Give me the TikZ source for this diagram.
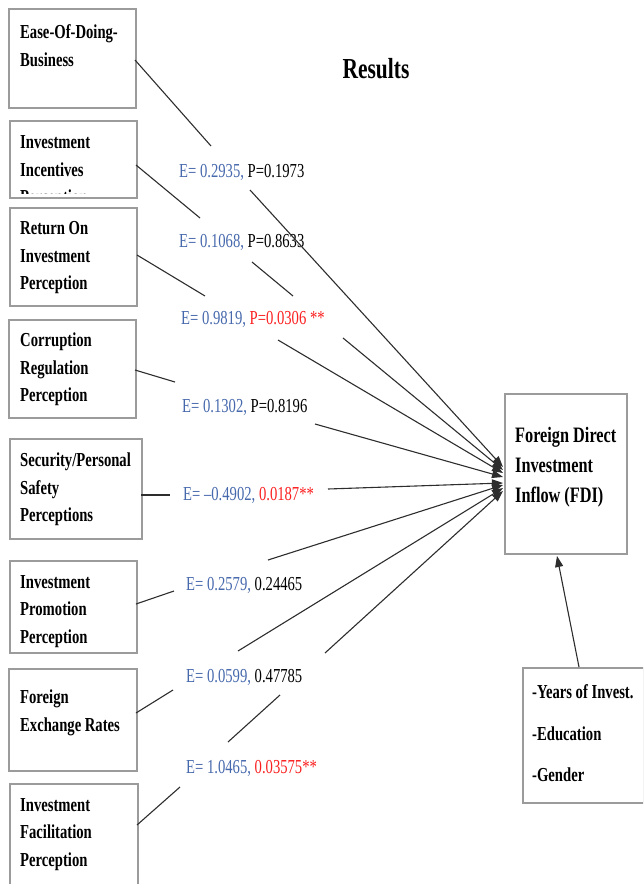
\documentclass[tikz,border=0pt]{standalone}
\usepackage{fontspec}
\setmainfont{Liberation Serif}[FakeStretch=0.74]
\usetikzlibrary{arrows.meta}
\definecolor{eblue}{RGB}{70,104,172}
\definecolor{pred}{RGB}{250,32,32}
\definecolor{boxgray}{RGB}{155,155,155}
\definecolor{linegray}{RGB}{45,45,45}
\tikzset{
  varbox/.style={draw=boxgray, line width=1.7pt},
  boxtext/.style={anchor=north west, inner sep=0pt, align=left,
    font=\fontsize{19.8}{27.5}\selectfont\bfseries},
  lbl/.style={anchor=base west, inner sep=0pt,
    font=\fontsize{19.8}{23}\selectfont},
  conn/.style={draw=linegray, line width=1.1pt},
  arr/.style={conn, -{Triangle[length=11pt,width=8pt]}},
}
\begin{document}
\begin{tikzpicture}[x=1pt,y=-1pt]
\useasboundingbox (0,0) rectangle (643,884);
\clip (0,0) rectangle (643,884);

% title
\node[anchor=base, inner sep=0pt, font=\fontsize{29}{32}\selectfont\bfseries] (title) at (376,78) {Results};

% left boxes
\node[varbox, minimum width=127pt, minimum height=99pt, anchor=north west, inner sep=0pt] (b1) at (8,8) {};
\node[boxtext] (t1) at (20,24.5) {Ease-Of-Doing-\\Business};

\node[varbox, minimum width=127pt, minimum height=77pt, anchor=north west, inner sep=0pt] (b2) at (9,120) {};
\begin{scope}
\clip (9,120) rectangle (136,193.5);
\node[boxtext] (t2) at (20,135.5) {Investment\\Incentives\\Perception};
\end{scope}

\node[varbox, minimum width=127pt, minimum height=98pt, anchor=north west, inner sep=0pt] (b3) at (9,207) {};
\node[boxtext] (t3) at (20,221.5) {Return On\\Investment\\Perception};

\node[varbox, minimum width=127pt, minimum height=98pt, anchor=north west, inner sep=0pt] (b4) at (8,319) {};
\node[boxtext] (t4) at (20,333) {Corruption\\Regulation\\Perception};

\node[varbox, minimum width=132pt, minimum height=100pt, anchor=north west, inner sep=0pt] (b5) at (9,438) {};
\node[boxtext] (t5) at (20,453) {Security/Personal\\Safety\\Perceptions};

\node[varbox, minimum width=127pt, minimum height=92pt, anchor=north west, inner sep=0pt] (b6) at (9,560) {};
\node[boxtext] (t6) at (20,575) {Investment\\Promotion\\Perception};

\node[varbox, minimum width=128pt, minimum height=102pt, anchor=north west, inner sep=0pt] (b7) at (8,668) {};
\node[boxtext] (t7) at (20,690) {Foreign\\Exchange Rates};

\node[varbox, minimum width=128pt, minimum height=120pt, anchor=north west, inner sep=0pt] (b8) at (9,783) {};
\node[boxtext] (t8) at (20,798) {Investment\\Facilitation\\Perception};

% FDI box
\node[varbox, minimum width=122pt, minimum height=160pt, anchor=north west, inner sep=0pt] (fdi) at (504,393) {};
\node[boxtext, font=\fontsize{22}{30}\selectfont\bfseries] (tf) at (515,427) {Foreign Direct\\Investment\\Inflow (FDI)};

% control box
\node[varbox, minimum width=121pt, minimum height=135pt, anchor=north west, inner sep=0pt] (ctrl) at (522,667) {};
\node[boxtext, font=\fontsize{19.8}{41.5}\selectfont\bfseries] (tc) at (532,684.5) {-Years of Invest.\\-Education\\-Gender};

% labels
\node[lbl] (l1) at (179,177) {\textcolor{eblue}{E= 0.2935,} P=0.1973};
\node[lbl] (l2) at (179,247) {\textcolor{eblue}{E= 0.1068,} P=0.8633};
\node[lbl] (l3) at (181,324) {\textcolor{eblue}{E= 0.9819,} \textcolor{pred}{P=0.0306 **}};
\node[lbl] (l4) at (182,412) {\textcolor{eblue}{E= 0.1302,} P=0.8196};
\node[lbl] (l5) at (183,500) {\textcolor{eblue}{E= –0.4902,} \textcolor{pred}{0.0187**}};
\node[lbl] (l6) at (186,590) {\textcolor{eblue}{E= 0.2579,} 0.24465};
\node[lbl] (l7) at (186,682) {\textcolor{eblue}{E= 0.0599,} 0.47785};
\node[lbl] (l8) at (186,773) {\textcolor{eblue}{E= 1.0465,} \textcolor{pred}{0.03575**}};

% connector coordinates
\coordinate (s1) at (135,60);  \coordinate (g1a) at (211,146); \coordinate (g1b) at (250,190); \coordinate (e1) at (503,467);
\coordinate (s2) at (136,165); \coordinate (g2a) at (200,218); \coordinate (g2b) at (252,262);
\coordinate (g2c) at (293,296); \coordinate (g2d) at (343,338); \coordinate (e2) at (503,470);
\coordinate (s3) at (137,255); \coordinate (g3a) at (205,296); \coordinate (g3b) at (278,340); \coordinate (e3) at (503,473);
\coordinate (s4) at (135,370); \coordinate (g4a) at (175,382); \coordinate (g4b) at (315,424); \coordinate (e4) at (503,477);
\coordinate (s5) at (141,495); \coordinate (g5a) at (170,495); \coordinate (g5b) at (328,489); \coordinate (e5) at (503,483);
\coordinate (s6) at (136,604); \coordinate (g6a) at (174,591); \coordinate (g6b) at (268,560); \coordinate (e6) at (503,485);
\coordinate (s7) at (136,713); \coordinate (g7a) at (173,690); \coordinate (g7b) at (238,651); \coordinate (e7) at (503,488);
\coordinate (s8) at (137,825); \coordinate (g8a) at (180,787); \coordinate (g8b) at (228,742);
\coordinate (g8c) at (280,695); \coordinate (g8d) at (325,653); \coordinate (e8) at (503,491);

\draw[conn] (s1) -- (g1a);  \draw[arr] (g1b) -- (e1);
\draw[conn] (s2) -- (g2a);  \draw[conn] (g2b) -- (g2c); \draw[arr] (g2d) -- (e2);
\draw[conn] (s3) -- (g3a);  \draw[arr] (g3b) -- (e3);
\draw[conn] (s4) -- (g4a);  \draw[arr] (g4b) -- (e4);
\draw[conn] (s5) -- (g5a);  \draw[arr] (g5b) -- (e5);
\draw[conn] (s6) -- (g6a);  \draw[arr] (g6b) -- (e6);
\draw[conn] (s7) -- (g7a);  \draw[arr] (g7b) -- (e7);
\draw[conn] (s8) -- (g8a);  \draw[conn] (g8b) -- (g8c); \draw[arr] (g8d) -- (e8);

% control arrow
\coordinate (cs) at (579,667);
\coordinate (ce) at (557,556);
\draw[arr] (cs) -- (ce);
\end{tikzpicture}
\end{document}
